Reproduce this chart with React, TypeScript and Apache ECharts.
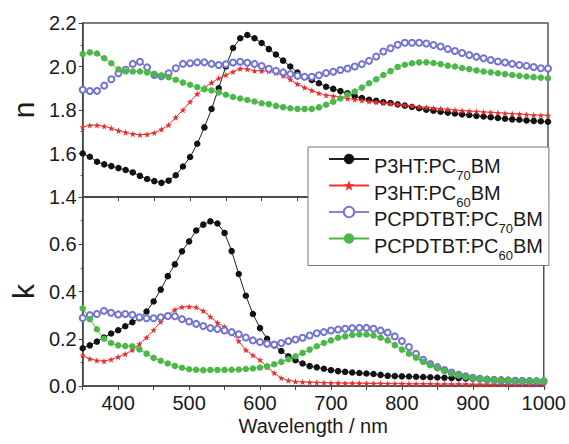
import React, { useEffect, useRef } from "react";
import * as echarts from "echarts";

const wavelength = [350, 360, 370, 380, 390, 400, 410, 420, 430, 440, 450, 460, 470, 480, 490, 500, 510, 520, 530, 540, 550, 560, 570, 580, 590, 600, 610, 620, 630, 640, 650, 660, 670, 680, 690, 700, 710, 720, 730, 740, 750, 760, 770, 780, 790, 800, 810, 820, 830, 840, 850, 860, 870, 880, 890, 900, 910, 920, 930, 940, 950, 960, 970, 980, 990, 1000];

const seriesNames = ["P3HT:PC70BM", "P3HT:PC60BM", "PCPDTBT:PC70BM", "PCPDTBT:PC60BM"];

// refractive index n
const nP3HT70 = [1.600, 1.585, 1.562, 1.550, 1.542, 1.533, 1.524, 1.513, 1.497, 1.483, 1.473, 1.465, 1.475, 1.500, 1.540, 1.584, 1.645, 1.720, 1.805, 1.900, 2.000, 2.085, 2.130, 2.145, 2.130, 2.108, 2.080, 2.055, 2.027, 2.000, 1.972, 1.953, 1.938, 1.923, 1.907, 1.897, 1.887, 1.877, 1.864, 1.855, 1.847, 1.842, 1.836, 1.832, 1.826, 1.820, 1.814, 1.808, 1.801, 1.797, 1.792, 1.788, 1.784, 1.780, 1.777, 1.773, 1.770, 1.767, 1.763, 1.760, 1.757, 1.755, 1.752, 1.750, 1.748, 1.746];
const nP3HT60 = [1.722, 1.730, 1.730, 1.725, 1.716, 1.705, 1.697, 1.690, 1.686, 1.688, 1.695, 1.711, 1.731, 1.766, 1.800, 1.838, 1.874, 1.903, 1.926, 1.946, 1.961, 1.976, 1.990, 1.988, 1.980, 1.980, 1.978, 1.970, 1.958, 1.940, 1.920, 1.903, 1.890, 1.877, 1.868, 1.864, 1.859, 1.853, 1.848, 1.844, 1.839, 1.836, 1.832, 1.829, 1.826, 1.822, 1.818, 1.815, 1.812, 1.809, 1.806, 1.803, 1.800, 1.797, 1.795, 1.793, 1.791, 1.789, 1.787, 1.785, 1.783, 1.781, 1.779, 1.777, 1.776, 1.775];
const nPCPDTBT70 = [1.893, 1.887, 1.888, 1.912, 1.941, 1.969, 1.985, 2.012, 2.022, 1.996, 1.961, 1.955, 1.969, 1.992, 2.012, 2.015, 2.019, 2.019, 2.012, 2.007, 2.010, 2.018, 2.022, 2.017, 2.012, 2.002, 1.990, 1.980, 1.973, 1.965, 1.957, 1.953, 1.953, 1.960, 1.970, 1.976, 1.984, 1.991, 2.000, 2.011, 2.026, 2.046, 2.069, 2.084, 2.100, 2.109, 2.109, 2.109, 2.106, 2.099, 2.092, 2.080, 2.071, 2.062, 2.053, 2.045, 2.038, 2.030, 2.023, 2.018, 2.012, 2.007, 2.003, 1.998, 1.992, 1.991];
const nPCPDTBT60 = [2.057, 2.065, 2.060, 2.038, 2.015, 1.987, 1.977, 1.977, 1.977, 1.973, 1.966, 1.957, 1.951, 1.939, 1.926, 1.916, 1.905, 1.896, 1.890, 1.881, 1.870, 1.860, 1.853, 1.846, 1.839, 1.831, 1.827, 1.819, 1.813, 1.808, 1.805, 1.805, 1.805, 1.812, 1.824, 1.838, 1.853, 1.870, 1.885, 1.903, 1.923, 1.941, 1.961, 1.979, 1.998, 2.008, 2.015, 2.019, 2.019, 2.016, 2.011, 2.004, 2.000, 1.993, 1.988, 1.982, 1.977, 1.973, 1.969, 1.965, 1.961, 1.957, 1.954, 1.951, 1.949, 1.946];

// extinction coefficient k
const kP3HT70 = [0.160, 0.172, 0.188, 0.205, 0.222, 0.236, 0.253, 0.270, 0.287, 0.315, 0.358, 0.408, 0.465, 0.515, 0.570, 0.612, 0.658, 0.683, 0.697, 0.688, 0.648, 0.571, 0.474, 0.382, 0.305, 0.245, 0.200, 0.172, 0.148, 0.126, 0.109, 0.095, 0.084, 0.079, 0.073, 0.067, 0.063, 0.060, 0.057, 0.055, 0.053, 0.051, 0.047, 0.043, 0.042, 0.041, 0.040, 0.039, 0.038, 0.037, 0.036, 0.035, 0.034, 0.033, 0.032, 0.031, 0.030, 0.029, 0.028, 0.027, 0.026, 0.025, 0.024, 0.023, 0.022, 0.021];
const kP3HT60 = [0.130, 0.115, 0.108, 0.105, 0.112, 0.123, 0.135, 0.152, 0.178, 0.205, 0.237, 0.272, 0.300, 0.323, 0.334, 0.336, 0.333, 0.318, 0.293, 0.268, 0.250, 0.222, 0.190, 0.152, 0.130, 0.110, 0.080, 0.055, 0.034, 0.023, 0.019, 0.017, 0.016, 0.015, 0.014, 0.013, 0.013, 0.012, 0.012, 0.012, 0.011, 0.011, 0.011, 0.010, 0.010, 0.010, 0.009, 0.009, 0.009, 0.009, 0.008, 0.008, 0.008, 0.008, 0.008, 0.007, 0.007, 0.007, 0.007, 0.007, 0.006, 0.006, 0.006, 0.006, 0.006, 0.006];
const kPCPDTBT70 = [0.288, 0.300, 0.305, 0.318, 0.310, 0.303, 0.305, 0.301, 0.291, 0.287, 0.287, 0.291, 0.296, 0.295, 0.283, 0.273, 0.263, 0.254, 0.245, 0.241, 0.235, 0.228, 0.219, 0.205, 0.193, 0.186, 0.179, 0.176, 0.182, 0.190, 0.197, 0.204, 0.214, 0.223, 0.228, 0.235, 0.239, 0.242, 0.245, 0.246, 0.246, 0.242, 0.235, 0.226, 0.210, 0.190, 0.165, 0.136, 0.111, 0.093, 0.080, 0.068, 0.057, 0.048, 0.041, 0.035, 0.031, 0.027, 0.025, 0.023, 0.022, 0.021, 0.021, 0.020, 0.020, 0.020];
const kPCPDTBT60 = [0.329, 0.283, 0.240, 0.200, 0.182, 0.172, 0.169, 0.168, 0.155, 0.137, 0.119, 0.107, 0.095, 0.085, 0.077, 0.071, 0.069, 0.067, 0.068, 0.068, 0.068, 0.069, 0.070, 0.072, 0.074, 0.078, 0.083, 0.092, 0.102, 0.113, 0.126, 0.140, 0.154, 0.168, 0.182, 0.193, 0.204, 0.210, 0.216, 0.218, 0.218, 0.214, 0.204, 0.193, 0.173, 0.154, 0.137, 0.120, 0.102, 0.088, 0.075, 0.063, 0.053, 0.045, 0.039, 0.034, 0.030, 0.027, 0.025, 0.024, 0.023, 0.023, 0.022, 0.022, 0.022, 0.022];

const nSets = [nP3HT70, nP3HT60, nPCPDTBT70, nPCPDTBT60];
const kSets = [kP3HT70, kP3HT60, kPCPDTBT70, kPCPDTBT60];

const FONT = "Liberation Sans";
const STAR = "path://M0,-10 L2.35,-3.24 L9.51,-3.09 L3.8,1.24 L5.88,8.09 L0,4 L-5.88,8.09 L-3.8,1.24 L-9.51,-3.09 L-2.35,-3.24 Z";

const styles = [
  { color: "#111111", line: "#222222", symbol: "circle", size: 6.5 },
  { color: "#ee2a2a", line: "#ee3333", symbol: STAR, size: 6.5 },
  { color: "#7373d2", line: "#8585d8", symbol: "emptyCircle", size: 6 },
  { color: "#4cb848", line: "#4cb848", symbol: "circle", size: 6.5 },
];

const pairs = (ys: number[]) => wavelength.map((x, i) => [x, ys[i]]);

export default function App() {
  const ref = useRef<HTMLDivElement>(null);
  useEffect(() => {
    if (!ref.current) return;
    const chart = echarts.init(ref.current, null, { renderer: "svg" });
    const axisColor = "#444";
    const tickLabel = { fontFamily: FONT, fontSize: 20, color: "#1a1a1a" };
    const xCommon = {
      type: "value",
      min: 350,
      max: 1000,
      interval: 50,
      axisLine: { show: true, lineStyle: { color: axisColor, width: 1.5 } },
      axisTick: { show: true, inside: false, length: 4, lineStyle: { color: axisColor } },
      minorTick: { show: false },
      splitLine: { show: false },
    };
    const series: any[] = [];
    seriesNames.forEach((name, i) => {
      const st = styles[i];
      [0, 1].forEach((g) => {
        series.push({
          name,
          type: "line",
          xAxisIndex: g,
          yAxisIndex: g,
          data: pairs(g === 0 ? nSets[i] : kSets[i]),
          symbol: st.symbol,
          symbolSize: st.size,
          showAllSymbol: true,
          lineStyle: { color: st.line, width: 1 },
          itemStyle: { color: st.color, borderWidth: st.symbol === "emptyCircle" ? 1 : 0 },
          z: 2 + i,
        });
      });
    });
    const rich = {
      m: { fontFamily: FONT, fontSize: 20, lineHeight: 20, color: "#1a1a1a", padding: [7, 0, 0, 0], verticalAlign: "top" },
      s: { fontFamily: FONT, fontSize: 13, lineHeight: 13, color: "#1a1a1a", padding: [20, 0, 0, 0], verticalAlign: "top" },
    };
    chart.setOption({
      animation: false,
      backgroundColor: "#ffffff",
      grid: [
        { left: 78, top: 23, width: 470, height: 174, show: true, borderColor: "#555", borderWidth: 1.5, backgroundColor: "transparent" },
        { left: 78, top: 197, width: 470, height: 189, show: true, borderColor: "#555", borderWidth: 1.5, backgroundColor: "transparent" },
      ],
      xAxis: [
        { ...xCommon, gridIndex: 0, axisLabel: { show: false } },
        {
          ...xCommon,
          gridIndex: 1,
          axisLabel: { ...tickLabel, margin: 7, formatter: (v: number) => (v % 100 === 0 ? String(v) : "") },
          name: "Wavelength / nm",
          nameLocation: "middle",
          nameGap: 30,
          nameTextStyle: { fontFamily: FONT, fontSize: 20, color: "#1a1a1a", verticalAlign: "top" },
        },
      ],
      yAxis: [
        {
          type: "value",
          gridIndex: 0,
          min: 1.4,
          max: 2.2,
          interval: 0.2,
          axisLine: { show: true, lineStyle: { color: axisColor, width: 1.5 } },
          axisTick: { show: true, length: 4, lineStyle: { color: axisColor } },
          minorTick: { show: true, splitNumber: 2, length: 2, lineStyle: { color: axisColor } },
          splitLine: { show: false },
          axisLabel: { ...tickLabel, margin: 6, formatter: (v: number) => v.toFixed(1) },
          name: "n",
          nameLocation: "middle",
          nameGap: 34,
          nameRotate: 90,
          nameTextStyle: { fontFamily: FONT, fontSize: 30, color: "#1a1a1a" },
        },
        {
          type: "value",
          gridIndex: 1,
          min: 0,
          max: 0.8,
          interval: 0.2,
          axisLine: { show: true, lineStyle: { color: axisColor, width: 1.5 } },
          axisTick: { show: true, length: 4, lineStyle: { color: axisColor } },
          minorTick: { show: true, splitNumber: 2, length: 2, lineStyle: { color: axisColor } },
          splitLine: { show: false },
          axisLabel: { ...tickLabel, margin: 6, showMaxLabel: false, formatter: (v: number) => (v >= 0.79 ? "" : v.toFixed(1)) },
          name: "k",
          nameLocation: "middle",
          nameGap: 34,
          nameRotate: 90,
          nameTextStyle: { fontFamily: FONT, fontSize: 30, color: "#1a1a1a" },
        },
      ],
      legend: {
        data: seriesNames,
        orient: "vertical",
        left: 308,
        top: 147,
        itemWidth: 40,
        itemHeight: 13,
        itemGap: -6.5,
        padding: [2, 6, 4, 20],
        backgroundColor: "#ffffff",
        borderColor: "#777",
        borderWidth: 1,
        selectedMode: false,
        z: 10,
        formatter: (name: string) => {
          const mm = name.match(/^(.*PC)(\d+)(BM)$/);
          if (!mm) return `{m|${name}}`;
          return `{m|${mm[1]}}{s|${mm[2]}}{m|${mm[3]}}`;
        },
        textStyle: { fontFamily: FONT, fontSize: 20, color: "#1a1a1a", rich },
      },
      series,
    });
    return () => chart.dispose();
  }, []);
  return <div ref={ref} style={{ position: "absolute", left: 0, top: 0, width: 569, height: 444 }} />;
}
